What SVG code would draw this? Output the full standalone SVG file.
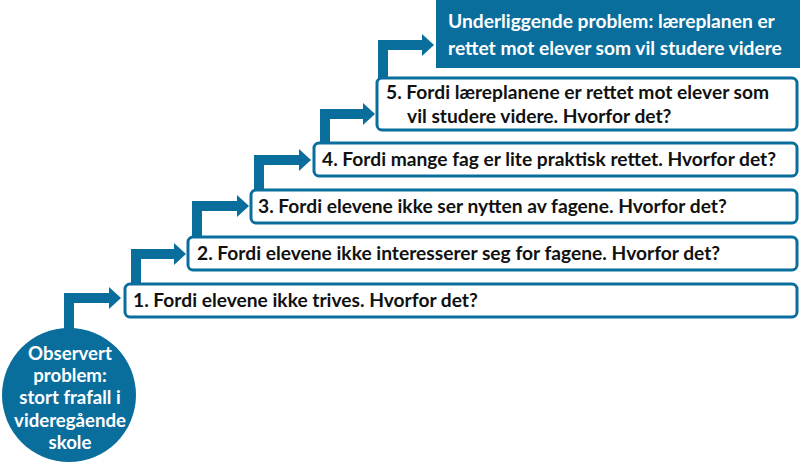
<svg xmlns="http://www.w3.org/2000/svg" width="800" height="469" viewBox="0 0 800 469">
<style>
.box{fill:#fff;stroke:#0a6e9d;stroke-width:3}
.t{font-family:Lato,"Open Sans",sans-serif;font-weight:700;font-size:19.2px;fill:#111}
.w{font-family:Lato,"Open Sans",sans-serif;font-weight:700;font-size:19.2px;fill:#fff}
.cw{font-family:Lato,"Open Sans",sans-serif;font-weight:700;font-size:18.6px;fill:#fff}
.c{stroke:#0a6e9d;stroke-width:10;fill:none;stroke-linejoin:miter}
.h{fill:#0a6e9d}
</style>
<rect width="800" height="469" fill="#fff"/>
<g id="connectors">
<path class="c" d="M69 340 V298 H110"/><polygon class="h" points="109,287 121,298 109,309"/>
<path class="c" d="M136 286 V254 H175"/><polygon class="h" points="174,243 186,254 174,265"/>
<path class="c" d="M197 239 V206 H238"/><polygon class="h" points="237,195 249,206 237,217"/>
<path class="c" d="M259 192 V160 H300"/><polygon class="h" points="299,149 311,160 299,171"/>
<path class="c" d="M325 145 V114 H364"/><polygon class="h" points="363,103 375,114 363,125"/>
<path class="c" d="M383 79 V45 H423"/><polygon class="h" points="422,34 434,45 422,56"/>
</g>
<g id="observed">
<circle cx="69" cy="395" r="67" fill="#0a6e9d"/>
<text class="cw" text-anchor="middle" x="70" y="360">Observert</text>
<text class="cw" text-anchor="middle" x="70" y="382">problem:</text>
<text class="cw" text-anchor="middle" x="70" y="404">stort frafall i</text>
<text class="cw" text-anchor="middle" x="70" y="427">videregående</text>
<text class="cw" text-anchor="middle" x="70" y="449">skole</text>
</g>
<g id="step1">
<rect class="box" x="125" y="284" width="672" height="33" rx="5"/>
<text class="t" x="133" y="307">1. Fordi elevene ikke trives. Hvorfor det?</text>
</g>
<g id="step2">
<rect class="box" x="188" y="237" width="609" height="33" rx="5"/>
<text class="t" x="197" y="260">2. Fordi elevene ikke interesserer seg for fagene. Hvorfor det?</text>
</g>
<g id="step3">
<rect class="box" x="251" y="190" width="546" height="33" rx="5"/>
<text class="t" x="258" y="213">3. Fordi elevene ikke ser nytten av fagene. Hvorfor det?</text>
</g>
<g id="step4">
<rect class="box" x="314" y="143" width="483" height="33" rx="5"/>
<text class="t" x="322" y="166">4. Fordi mange fag er lite praktisk rettet. Hvorfor det?</text>
</g>
<g id="step5">
<rect class="box" x="377" y="78" width="420" height="52" rx="5"/>
<text class="t" x="386" y="99">5. Fordi læreplanene er rettet mot elever som</text>
<text class="t" x="407" y="123">vil studere videre. Hvorfor det?</text>
</g>
<g id="underlying">
<rect x="436" y="0" width="364" height="68" fill="#0a6e9d"/>
<text class="w" x="448" y="28">Underliggende problem: læreplanen er</text>
<text class="w" x="448" y="55">rettet mot elever som vil studere videre</text>
</g>
</svg>
